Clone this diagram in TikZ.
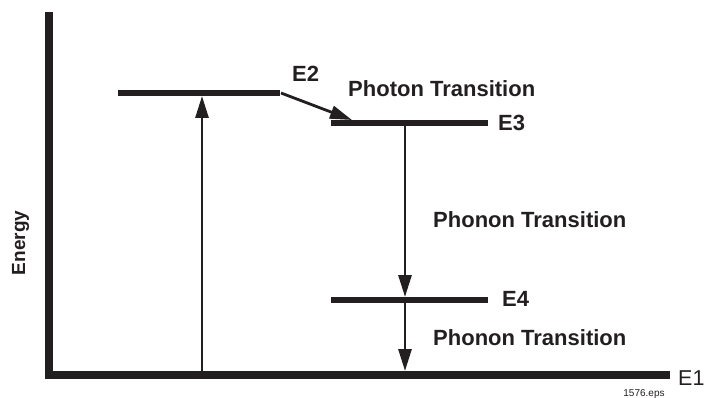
\documentclass[tikz,border=0pt]{standalone}
\usepackage{fontspec}
\setmainfont{Liberation Sans}
\usetikzlibrary{arrows.meta}
\definecolor{ink}{HTML}{231F20}

\begin{document}
\begin{tikzpicture}[x=1pt,y=-1pt,font=\bfseries\fontsize{22}{24}\selectfont,
  axis/.style={draw=ink,line width=8pt,line join=miter},
  lvl/.style={draw=ink,line width=6pt},
  ar/.style={-{Triangle[length=22pt,width=13pt]},draw=ink,line width=2.8pt},
  lab/.style={anchor=base west,inner sep=0pt,text=ink}]
\useasboundingbox (0,0) rectangle (704,398);

% axes
\coordinate (top) at (49,12);
\coordinate (orig) at (49,375);
\coordinate (xend) at (670,375);
\draw[axis] (top) -- (orig) -- (xend);

% levels
\coordinate (e2l) at (118,93);  \coordinate (e2r) at (280,93);
\coordinate (e3l) at (331,123); \coordinate (e3r) at (488,123);
\coordinate (e4l) at (331,300); \coordinate (e4r) at (488,300);
\draw[lvl] (e2l) -- (e2r);
\draw[lvl] (e3l) -- (e3r);
\draw[lvl] (e4l) -- (e4r);

% transitions
\coordinate (pump0) at (202,371); \coordinate (pump1) at (202,96);
\coordinate (ph0) at (281,93);    \coordinate (ph1) at (352,120);
\coordinate (d30) at (405,126);   \coordinate (d31) at (405,297);
\coordinate (d40) at (405,303);   \coordinate (d41) at (405,371);
\draw[ar] (pump0) -- (pump1);
\draw[ar] (ph0) -- (ph1);
\draw[ar] (d30) -- (d31);
\draw[ar] (d40) -- (d41);

% labels
\node[lab] (le2) at (292,82) {E2};
\node[lab] (le3) at (498,131) {E3};
\node[lab] (le4) at (502,306) {E4};
\node[lab,font=\mdseries\fontsize{21.5}{24}\selectfont] (le1) at (678,385) {E1};
\node[lab] (tph) at (348,97) {Photon Transition};
\node[lab] (tpn1) at (433,227) {Phonon Transition};
\node[lab] (tpn2) at (433,345) {Phonon Transition};
\node[anchor=base,inner sep=0pt,text=ink,rotate=90,font=\bfseries\fontsize{19}{20}\selectfont] (en) at (25,243) {Energy};
\node[anchor=base,inner sep=0pt,text=ink,font=\mdseries\fontsize{10}{12}\selectfont] (eps) at (644,396) {1576.eps};
\end{tikzpicture}
\end{document}
